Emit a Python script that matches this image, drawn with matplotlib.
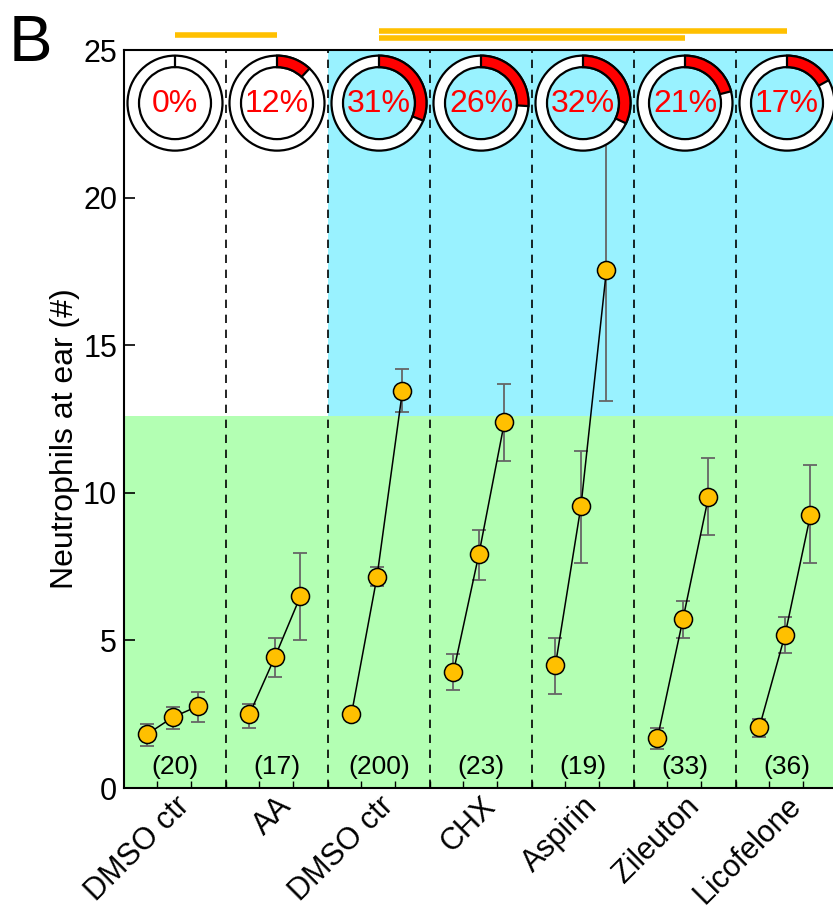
import numpy as np
import matplotlib
matplotlib.use('Agg')
import matplotlib.pyplot as plt
from matplotlib.patches import Wedge, Rectangle

plt.rcParams['font.family']=['Liberation Sans','DejaVu Sans']

#------------------------------------------------------------------------------
#data
group_labels=['DMSO ctr','AA','DMSO ctr','CHX','Aspirin','Zileuton','Licofelone']
group_n=['(20)','(17)','(200)','(23)','(19)','(33)','(36)']
percent_red=[0,12,31,26,32,21,17]

#three time points per group
mean_values=[[1.83,2.40,2.78],
             [2.50,4.44,6.50],
             [2.50,7.15,13.45],
             [3.93,7.93,12.40],
             [4.17,9.55,17.55],
             [1.69,5.72,9.86],
             [2.07,5.18,9.25]]

err_low=[[1.42,2.00,2.24],
         [2.03,3.76,5.01],
         [2.45,6.84,12.74],
         [3.32,7.05,11.08],
         [3.18,7.62,13.11],
         [1.32,5.08,8.57],
         [1.73,4.57,7.62]]

err_high=[[2.17,2.74,3.25],
          [2.85,5.08,7.96],
          [2.55,7.49,14.19],
          [4.54,8.74,13.69],
          [5.08,11.42,22.02],
          [2.03,6.33,11.18],
          [2.34,5.79,10.94]]

#significance bars: (first group, last group, height)
sig_bars=[(0,1,25.51),(2,6,25.66),(2,5,25.41)]

#threshold between green and cyan background
threshold=12.6

#------------------------------------------------------------------------------
W,H=833,911
figure=plt.figure(figsize=(W/100,H/100),dpi=100)

ax=figure.add_axes([124/W,(H-788)/H,(838-124)/W,738/H])
ax.set_xlim(0,7)
ax.set_ylim(0,25)

#backgrounds
ax.add_patch(Rectangle((0,0),7,threshold,facecolor='#b3ffb3',edgecolor='none',zorder=0))
ax.add_patch(Rectangle((2,threshold),5,25-threshold,facecolor='#99f2ff',edgecolor='none',zorder=0))

#group separators
for k in range(1,7):
    ax.axvline(k,color='black',lw=1.2,ls=(0,(5,4)),zorder=1)

#time point offsets inside a group
offsets=np.array([0.23,0.48,0.73])

for i in range(len(group_labels)):

    xs=i+offsets
    ys=np.array(mean_values[i])
    lo=ys-np.array(err_low[i])
    hi=np.array(err_high[i])-ys

    ax.errorbar(xs,ys,yerr=[lo,hi],fmt='none',ecolor='#666666',
                elinewidth=1.3,capsize=5,capthick=1.3,zorder=2)
    ax.plot(xs,ys,color='black',lw=1.1,zorder=3)
    ax.plot(xs,ys,'o',ms=13,mfc='#ffc000',mec='black',mew=1.1,zorder=4)

    #sample size
    ax.text(i+0.5,0.7,group_n[i],ha='center',va='center',fontsize=19,zorder=5)

#significance bars above the axes
for g0,g1,yb in sig_bars:
    ax.plot([g0+0.5,g1+0.5],[yb,yb],color='#ffc000',lw=4,
            solid_capstyle='butt',clip_on=False)

#ticks
ax.set_yticks([0,5,10,15,20,25])
ax.tick_params(axis='y',direction='in',length=8,width=1.2,labelsize=22,pad=5)
ax.set_xticks(np.arange(7)+0.6)
ax.set_xticklabels(group_labels,rotation=45,ha='right',va='center',
                   rotation_mode='anchor',fontsize=22)
ax.tick_params(axis='x',length=0,pad=10)

#small inner ticks on the bottom
minor=[k+o for k in range(7) for o in (0.32,0.66)]+list(range(1,7))
ax.set_xticks(minor,minor=True)
ax.tick_params(axis='x',which='minor',direction='in',length=5,width=1)

for s in ax.spines.values():
    s.set_linewidth(1.5)

ax.set_ylabel('Neutrophils at ear (#)',fontsize=23)
ax.yaxis.set_label_coords(-0.062,0.474)

#panel letter
figure.text(9/W,1-61/H,'B',fontsize=47,ha='left',va='baseline')

#------------------------------------------------------------------------------
#donut charts at the top of each group
donut_y=23.2
R_out=47.5
r_in=36/47.5
half=R_out*1.06

figure.canvas.draw()
for i,p in enumerate(percent_red):

    cx,cy=ax.transData.transform((i+0.5,donut_y))
    iax=figure.add_axes([(cx-half)/W,(cy-half)/H,2*half/W,2*half/H])
    iax.set_xlim(-1.06,1.06)
    iax.set_ylim(-1.06,1.06)
    iax.axis('off')
    iax.patch.set_alpha(0)

    iax.add_patch(Wedge((0,0),1,0,360,width=1-r_in,facecolor='white',
                        edgecolor='black',lw=1.6))
    if p>0:
        iax.add_patch(Wedge((0,0),1,90-3.6*p,90,width=1-r_in,facecolor='red',
                            edgecolor='black',lw=1.6))
    else:
        iax.plot([0,0],[r_in,1],color='black',lw=1.6)

    iax.text(0,-0.02,str(p)+'%',color='red',fontsize=23,ha='center',va='center')

figure.savefig('out.png',dpi=100)
